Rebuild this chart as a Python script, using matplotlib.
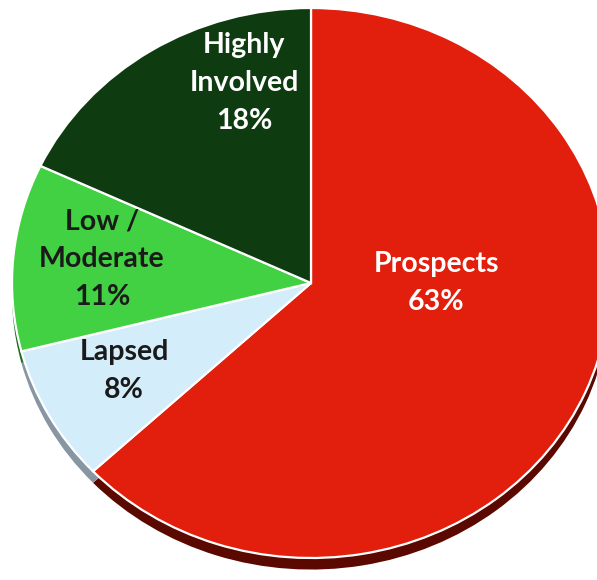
import matplotlib.pyplot as plt

# Segment data (clockwise from 12 o'clock)
segments = ["Prospects", "Lapsed", "Low /\nModerate", "Highly\nInvolved"]
shares = [63, 8, 11, 18]
face_colors = ["#E21F0C", "#D3EDFB", "#42D142", "#0E3B0F"]
side_colors = ["#5A0800", "#8796A2", "#1E6E1E", "#06200A"]
text_colors = ["white", "#1A1A1A", "#1A1A1A", "white"]
# label anchor points in pixels (x from left, y from top)
label_x = [436, 124, 102, 244]
label_y = [283, 371, 259, 83]

W, H = 597, 580
fig = plt.figure(figsize=(W / 100, H / 100), dpi=100)

# pie axes: unit circle stretched into the tilted ellipse
cx, cy, rx, ry = 311, 283, 299, 275
ylo = -1.1
top_px = cy - ry
ax = fig.add_axes([(cx - rx) / W, 1 - (top_px + (1 - ylo) * ry) / H,
                   2 * rx / W, (1 - ylo) * ry / H])

# depth (side of the 3D pie)
ax.pie(shares, colors=side_colors, startangle=90, counterclock=False,
       radius=1, center=(0, -0.042),
       wedgeprops=dict(linewidth=0))
# top face
ax.pie(shares, colors=face_colors, startangle=90, counterclock=False,
       radius=1, center=(0, 0),
       wedgeprops=dict(linewidth=1.6, edgecolor="white"))
ax.set_xlim(-1, 1)
ax.set_ylim(ylo, 1)
ax.set_aspect("auto")
ax.axis("off")

for name, val, tc, x, y in zip(segments, shares, text_colors, label_x, label_y):
    fig.text(x / W, 1 - y / H, f"{name}\n{val}%", color=tc,
             ha="center", va="center", fontsize=20.5, fontweight="bold",
             family=["Lato", "DejaVu Sans"], linespacing=1.55)

fig.savefig("out.png", dpi=100)
